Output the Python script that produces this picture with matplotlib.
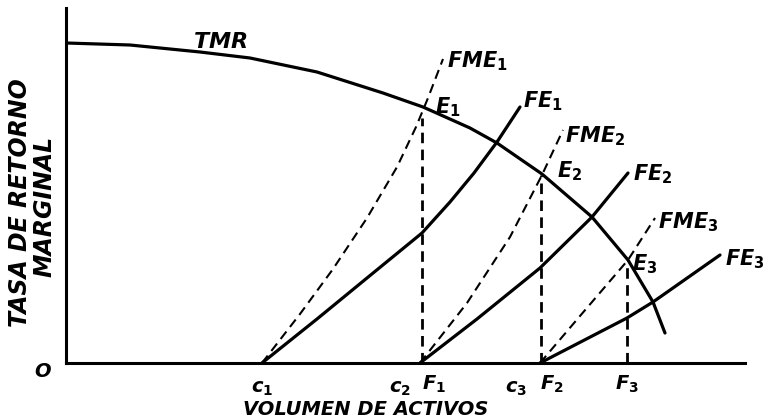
import matplotlib
matplotlib.use('Agg')
import matplotlib.pyplot as plt

# curves (arbitrary units: x = volume, y = rate)
tmr_x = [0, 64, 134, 184, 251, 317, 357, 404, 431, 476, 526, 562, 587, 599]
tmr_y = [320, 318, 311, 305, 291, 270, 256, 235, 220, 189, 146, 103, 61, 30]

fe1_x = [196, 251, 301, 356, 384, 408, 431, 454]
fe1_y = [0, 44, 85, 130, 161, 190, 221, 256]
fme1_x = [196, 234, 267, 301, 331, 350, 362, 377]
fme1_y = [0, 49, 94, 145, 196, 236, 265, 304]

fe2_x = [354, 411, 474, 526, 562]
fe2_y = [0, 44, 95, 146, 190]
fme2_x = [354, 401, 444, 476, 497]
fme2_y = [0, 60, 126, 188, 233]

fe3_x = [474, 561, 587, 654]
fe3_y = [0, 45, 61, 108]
fme3_x = [474, 514, 562, 589]
fme3_y = [0, 47, 103, 145]

# vertical drop lines E_i -> F_i
f_x = [356, 475, 561]
f_top = [245, 188, 101]

curve_labels = [r'$FME_1$', r'$E_1$', r'$FE_1$', r'$FME_2$', r'$E_2$',
                r'$FE_2$', r'$FME_3$', r'$E_3$', r'$FE_3$']
curve_label_pos = [(381, 296), (369, 250), (457, 256), (499, 221),
                   (491, 186), (567, 183), (592, 135), (566, 93), (659, 98)]

axis_labels = [r'$O$', r'$c_1$', r'$c_2$', r'$F_1$', r'$c_3$', r'$F_2$', r'$F_3$']
axis_label_x = [-23, 196, 334, 368, 450, 486, 561]
axis_label_y = [-14, -30, -30, -27, -30, -27, -27]

plt.rcParams['mathtext.fontset'] = 'custom'
plt.rcParams['mathtext.it'] = 'DejaVu Sans:italic:bold'
plt.rcParams['mathtext.rm'] = 'DejaVu Sans:bold'

W, H = 763, 419
fig = plt.figure(figsize=(W / 100, H / 100), dpi=100)
ax = fig.add_axes([66 / W, 56 / H, 679 / W, 355 / H])
ax.set_xlim(0, 679)
ax.set_ylim(0, 355)
for s in ['top', 'right']:
    ax.spines[s].set_visible(False)
for s in ['left', 'bottom']:
    ax.spines[s].set_linewidth(2.2)
ax.set_xticks([])
ax.set_yticks([])

solid = dict(color='black', lw=2.3, solid_capstyle='round', solid_joinstyle='round')
dashed = dict(color='black', lw=1.5, dashes=(4.5, 2.8))

ax.plot(tmr_x, tmr_y, **solid)
for x, y in [(fe1_x, fe1_y), (fe2_x, fe2_y), (fe3_x, fe3_y)]:
    ax.plot(x, y, **solid)
for x, y in [(fme1_x, fme1_y), (fme2_x, fme2_y), (fme3_x, fme3_y)]:
    ax.plot(x, y, **dashed)
for x, top in zip(f_x, f_top):
    ax.plot([x, x], [0, top], color='black', lw=2.0, dashes=(3.8, 2.3))

ax.text(127, 315, r'$TMR$', fontsize=16, ha='left', va='baseline', clip_on=False)
for lab, (x, y) in zip(curve_labels, curve_label_pos):
    ax.text(x, y, lab, fontsize=15, ha='left', va='baseline', clip_on=False)

for lab, x, y in zip(axis_labels, axis_label_x, axis_label_y):
    ax.text(x, y, lab, fontsize=14, ha='center', va='baseline', clip_on=False)

ax.text(300, -52, 'VOLUMEN DE ACTIVOS', fontsize=14, fontstyle='italic',
        fontweight='bold', ha='center', va='baseline', clip_on=False)
ax.text(-46, 160, 'TASA DE RETORNO', fontsize=17, fontstyle='italic',
        fontweight='bold', rotation=90, ha='center', va='center', clip_on=False)
ax.text(-22, 157, 'MARGINAL', fontsize=17, fontstyle='italic',
        fontweight='bold', rotation=90, ha='center', va='center', clip_on=False)

fig.savefig('out.png', dpi=100)
